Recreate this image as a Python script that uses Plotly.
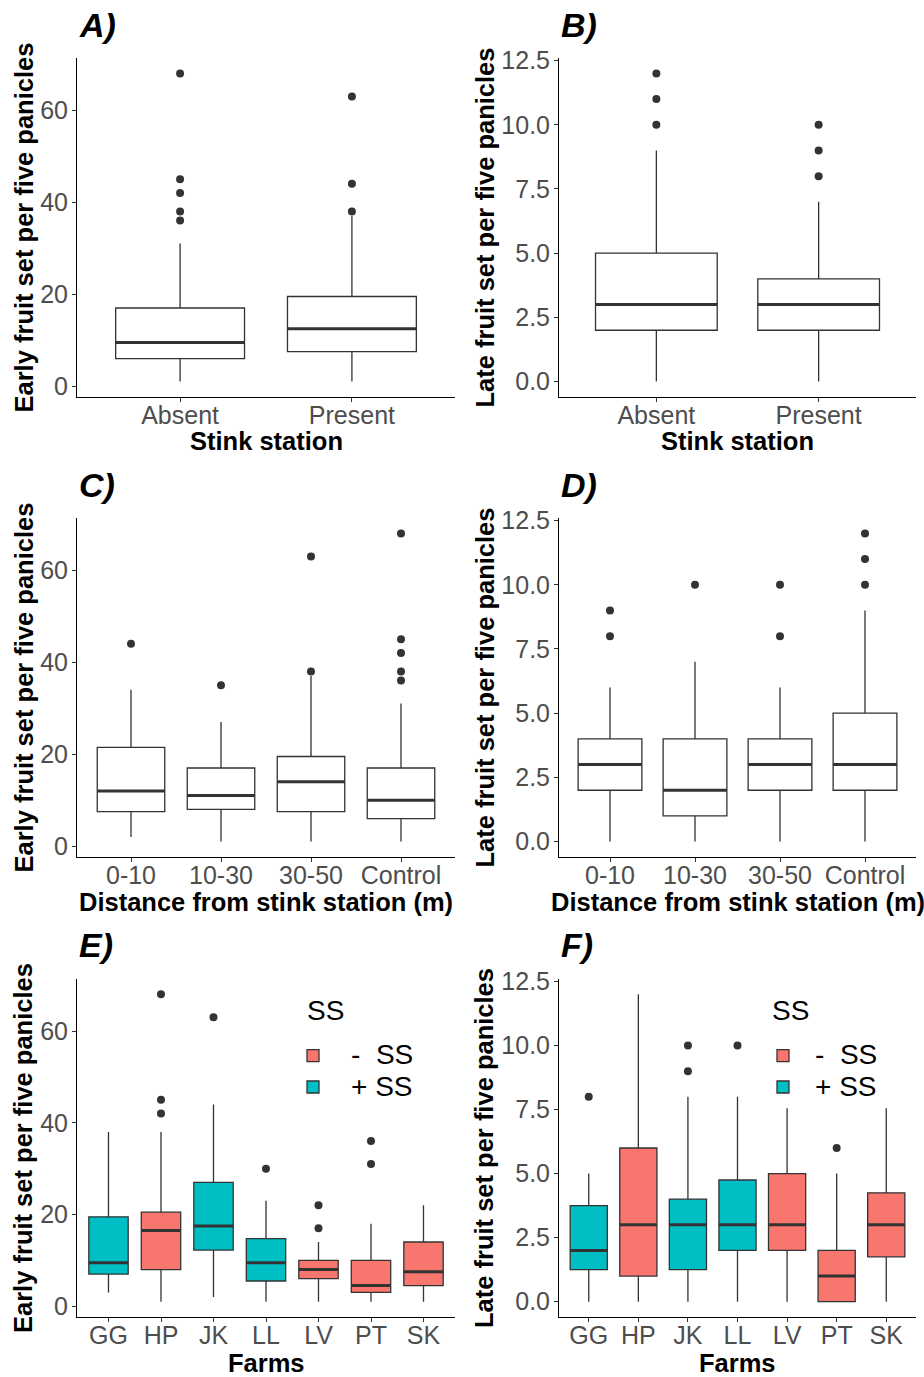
import plotly.graph_objects as go

# ---------------- data ----------------
station = ["Absent", "Present"]
distance = ["0-10", "10-30", "30-50", "Control"]
farms = ["GG", "HP", "JK", "LL", "LV", "PT", "SK"]
farm_ss = ["+ SS", "- SS", "+ SS", "+ SS", "- SS", "- SS", "- SS"]
ss_levels = ["- SS", "+ SS"]
ss_labels = ["-\u00a0\u00a0SS", "+\u00a0SS"]
legend_title = "SS"

early_ticks = [0, 20, 40, 60]
late_ticks = [0, 2.5, 5, 7.5, 10, 12.5]

# A) early fruit set ~ stink station
a_low = [1, 1]
a_q1 = [6, 7.5]
a_med = [9.5, 12.5]
a_q3 = [17, 19.5]
a_high = [31, 37]
a_out = [[36, 38, 42, 45, 68], [38, 44, 63]]

# B) late fruit set ~ stink station
b_low = [0, 0]
b_q1 = [2, 2]
b_med = [3, 3]
b_q3 = [5, 4]
b_high = [9, 7]
b_out = [[10, 11, 12], [8, 9, 10]]

# C) early fruit set ~ distance
c_low = [2, 1, 1, 1]
c_q1 = [7.5, 8, 7.5, 6]
c_med = [12, 11, 14, 10]
c_q3 = [21.5, 17, 19.5, 17]
c_high = [34, 27, 37, 31]
c_out = [[44], [35], [38, 63], [36, 38, 42, 45, 68]]

# D) late fruit set ~ distance
d_low = [0, 0, 0, 0]
d_q1 = [2, 1, 2, 2]
d_med = [3, 2, 3, 3]
d_q3 = [4, 4, 4, 5]
d_high = [6, 7, 6, 9]
d_out = [[8, 9], [10], [8, 10], [10, 11, 12]]

# E) early fruit set ~ farm
e_low = [3, 1, 2, 1, 1, 1, 1]
e_q1 = [7, 8, 12.25, 5.5, 6, 3, 4.5]
e_med = [9.5, 16.5, 17.5, 9.5, 8, 4.5, 7.5]
e_q3 = [19.5, 20.5, 27, 14.75, 10, 10, 14]
e_high = [38, 38, 44, 23, 14, 18, 22]
e_out = [[], [42, 45, 68], [63], [30], [17, 22], [31, 36], []]

# F) late fruit set ~ farm
f_low = [0, 0, 0, 0, 0, 0, 0]
f_q1 = [1.25, 1, 1.25, 2, 2, 0, 1.75]
f_med = [2, 3, 3, 3, 3, 1, 3]
f_q3 = [3.75, 6, 4, 4.75, 5, 2, 4.25]
f_high = [5, 12, 8, 8, 7.55, 5, 7.55]
f_out = [[8], [], [9, 10], [10], [], [6], []]

# ---------------- style ----------------
W, H = 924, 1377
EDGE = "#333333"
TICKC = "#4D4D4D"
FONT = "Liberation Sans, Arial, sans-serif"
ss_colors = {"- SS": "#F8766D", "+ SS": "#00BFC4"}
BOXW = 0.75
LEG_TXT = 28

fig = go.Figure()


def add_panel(k, cats, low, q1, med, q3, high, outs, groups=None, legend=None):
    xa = "x" if k == 1 else f"x{k}"
    ya = "y" if k == 1 else f"y{k}"
    idx = list(range(len(cats)))
    if groups is None:
        sets = [(None, None, idx, "white")]
    else:
        sets = [(g, ss_labels[j], [i for i in idx if groups[i] == g], ss_colors[g])
                for j, g in enumerate(ss_levels)]
    for j, (g, lab, ii, fill) in enumerate(sets):
        name = ('<span style="font-size:%dpx">%s</span>' % (LEG_TXT, lab)) if lab else cats[0]
        fig.add_trace(go.Box(
            x=ii,
            q1=[q1[i] for i in ii], median=[med[i] for i in ii],
            q3=[q3[i] for i in ii],
            lowerfence=[low[i] for i in ii], upperfence=[high[i] for i in ii],
            width=BOXW, whiskerwidth=0, boxpoints=False,
            fillcolor=fill, line=dict(color=EDGE, width=1.3),
            name=name,
            showlegend=(legend is not None and g is not None),
            legend=legend if legend else "legend",
            legendrank=j + 1,
            xaxis=xa, yaxis=ya, hoverinfo="skip"))
    mx, my = [], []
    for i in idx:
        mx += [i - BOXW / 2, i + BOXW / 2, None]
        my += [med[i], med[i], None]
    fig.add_trace(go.Scatter(x=mx, y=my, mode="lines",
                             line=dict(color=EDGE, width=3),
                             showlegend=False, hoverinfo="skip",
                             xaxis=xa, yaxis=ya))
    ox, oy = [], []
    for i in idx:
        for v in outs[i]:
            ox.append(i)
            oy.append(v)
    fig.add_trace(go.Scatter(x=ox, y=oy, mode="markers",
                             marker=dict(color=EDGE, size=8),
                             showlegend=False, hoverinfo="skip",
                             xaxis=xa, yaxis=ya))


add_panel(1, station, a_low, a_q1, a_med, a_q3, a_high, a_out)
add_panel(2, station, b_low, b_q1, b_med, b_q3, b_high, b_out)
add_panel(3, distance, c_low, c_q1, c_med, c_q3, c_high, c_out)
add_panel(4, distance, d_low, d_q1, d_med, d_q3, d_high, d_out)
add_panel(5, farms, e_low, e_q1, e_med, e_q3, e_high, e_out, farm_ss, "legend")
add_panel(6, farms, f_low, f_q1, f_med, f_q3, f_high, f_out, farm_ss, "legend2")

# ---------------- layout ----------------
colx = [(77, 455), (559, 916)]
rowy = [(58, 397), (518, 857), (979, 1317)]


def px_x(v):
    return v / W


def px_y(v):
    return 1 - v / H


def xaxis_cfg(k, cats):
    c = (k - 1) % 2
    return dict(domain=[px_x(colx[c][0]), px_x(colx[c][1])],
                anchor="y" if k == 1 else f"y{k}",
                range=[-0.6, len(cats) - 0.4],
                tickmode="array", tickvals=list(range(len(cats))), ticktext=cats,
                showline=True, linecolor="black", linewidth=1,
                ticks="outside", ticklen=4, tickwidth=1, tickcolor=EDGE,
                ticklabelstandoff=-8, automargin=False,
                tickfont=dict(size=25, color=TICKC, family=FONT),
                showgrid=False, zeroline=False, fixedrange=True)


def yaxis_cfg(k, early):
    r = (k - 1) // 2
    if early:
        rng = [-2.35, 71.35]
        tv = early_ticks
        tt = [str(v) for v in early_ticks]
    else:
        rng = [-0.6, 12.6]
        tv = late_ticks
        tt = ["%.1f" % v for v in late_ticks]
    return dict(domain=[px_y(rowy[r][1]), px_y(rowy[r][0])],
                anchor="x" if k == 1 else f"x{k}",
                range=rng, tickmode="array", tickvals=tv, ticktext=tt,
                showline=True, linecolor="black", linewidth=1,
                ticks="outside", ticklen=4, tickwidth=1, tickcolor=EDGE,
                ticklabelstandoff=-1, automargin=False,
                tickfont=dict(size=25, color=TICKC, family=FONT),
                showgrid=False, zeroline=False, fixedrange=True)


cats_by_panel = [station, station, distance, distance, farms, farms]
layout = dict(template="none", width=W, height=H,
              margin=dict(l=0, r=0, t=0, b=0, pad=0, autoexpand=False),
              paper_bgcolor="white", plot_bgcolor="white",
              font=dict(family=FONT, color="black"),
              showlegend=True)
for k in range(1, 7):
    kx = "xaxis" if k == 1 else f"xaxis{k}"
    ky = "yaxis" if k == 1 else f"yaxis{k}"
    layout[kx] = xaxis_cfg(k, cats_by_panel[k - 1])
    layout[ky] = yaxis_cfg(k, k % 2 == 1)

leg_common = dict(xanchor="left", yanchor="top",
                  font=dict(size=21.8, color="black", family=FONT),
                  bgcolor="rgba(0,0,0,0)", borderwidth=0,
                  tracegroupgap=0, traceorder="normal")
layout["legend"] = dict(x=px_x(275), y=px_y(1035), itemwidth=66, **leg_common)
layout["legend2"] = dict(x=px_x(751), y=px_y(1035), itemwidth=54, **leg_common)

annotations = []
labels = ["A)", "B)", "C)", "D)", "E)", "F)"]
ytitles = ["Early fruit set per five panicles", "Late fruit set per five panicles"]
xtitles = ["Stink station", "Distance from stink station (m)", "Farms"]
title_centers = [441, 902, 1363]
label_centers = [25, 485, 945]
for k in range(6):
    c = k % 2
    r = k // 2
    x0, x1 = colx[c]
    y0, y1 = rowy[r]
    annotations.append(dict(text="<b><i>%s</i></b>" % labels[k], x=px_x(x0), y=px_y(label_centers[r]),
                            xref="paper", yref="paper", xanchor="left", yanchor="middle",
                            showarrow=False, font=dict(size=34, color="black", family=FONT)))
    annotations.append(dict(text="<b>%s</b>" % ytitles[c], x=px_x(23 if c == 0 else 484),
                            y=px_y((y0 + y1) / 2), xref="paper", yref="paper",
                            xanchor="center", yanchor="middle", textangle=-90,
                            showarrow=False, font=dict(size=25.5, color="black", family=FONT)))
    annotations.append(dict(text="<b>%s</b>" % xtitles[r], x=px_x((x0 + x1) / 2),
                            y=px_y(title_centers[r]), xref="paper", yref="paper",
                            xanchor="center", yanchor="middle",
                            showarrow=False, font=dict(size=25.5, color="black", family=FONT)))
# legend titles
for lx in (305, 770):
    annotations.append(dict(text=legend_title, x=px_x(lx), y=px_y(1010),
                            xref="paper", yref="paper", xanchor="left", yanchor="middle",
                            showarrow=False, font=dict(size=LEG_TXT, color="black", family=FONT)))
layout["annotations"] = annotations

fig.update_layout(**layout)
fig.write_html("out.html", config={"displayModeBar": False},
               post_script="document.body.style.margin='0';")
